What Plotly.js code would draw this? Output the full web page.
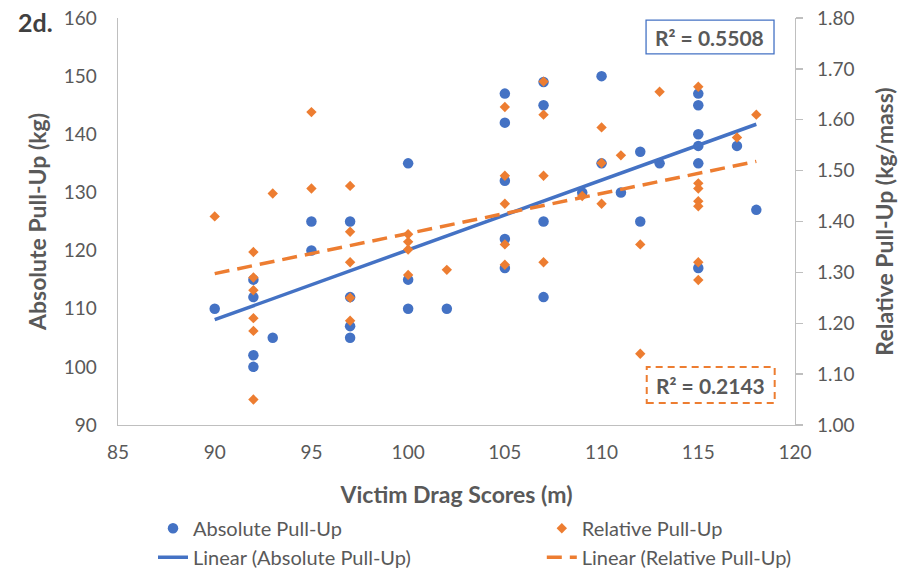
<!DOCTYPE html>
<html>
<head>
<meta charset="utf-8">
<script src="https://cdn.plot.ly/plotly-3.0.1.min.js"></script>
<style>html,body{margin:0;padding:0;background:#fff;}#chart{width:910px;height:571px;}</style>
</head>
<body>
<div id="chart"></div>
<script>
// Absolute pull-up (kg) vs victim drag score (m)
const absDrag = [90, 92,92,92,92, 93, 95,95, 97,97,97,97, 100,100,100, 102, 105,105,105,105,105, 107,107,107,107, 109, 110,110, 111, 112,112, 113, 115,115,115,115,115,115, 117, 118];
const absPull = [110, 115,112,102,100, 105, 125,120, 125,112,107,105, 135,115,110, 110, 147,142,132,122,117, 149,145,125,112, 130, 150,135, 130, 137,125, 135, 147,145,140,138,135,117, 138, 127];

// Relative pull-up (kg/mass) vs victim drag score (m)
const relDrag = [90, 92,92,92,92,92,92, 93, 95,95, 97,97,97,97,97, 100,100,100,100, 102, 105,105,105,105,105, 107,107,107,107, 109, 110,110,110, 111, 112,112, 113, 115,115,115,115,115,115,115, 117, 118];
const relPull = [1.41, 1.34,1.29,1.265,1.21,1.185,1.05, 1.455, 1.615,1.465, 1.47,1.38,1.32,1.25,1.205, 1.375,1.36,1.345,1.295, 1.305, 1.625,1.49,1.435,1.355,1.315, 1.675,1.61,1.49,1.32, 1.45, 1.585,1.515,1.435, 1.53, 1.355,1.14, 1.655, 1.665,1.475,1.465,1.44,1.43,1.32,1.285, 1.565, 1.61];

const r2Labels = ["R² = 0.5508", "R² = 0.2143"];
const legendNames = ["Absolute Pull-Up", "Relative Pull-Up", "Linear (Absolute Pull-Up)", "Linear (Relative Pull-Up)"];

function linFit(xs, ys) {
  const n = xs.length;
  const mx = xs.reduce((a, b) => a + b, 0) / n;
  const my = ys.reduce((a, b) => a + b, 0) / n;
  let sxy = 0, sxx = 0;
  for (let i = 0; i < n; i++) { sxy += (xs[i] - mx) * (ys[i] - my); sxx += (xs[i] - mx) ** 2; }
  const m = sxy / sxx, b = my - m * mx;
  const x0 = Math.min(...xs), x1 = Math.max(...xs);
  return { x: [x0, x1], y: [m * x0 + b, m * x1 + b] };
}
const fitAbs = linFit(absDrag, absPull);
const fitRel = linFit(relDrag, relPull);

const BLUE = '#4472C4', ORANGE = '#ED7D31', GREY = '#595959', AXIS = '#BFBFBF';
const FONT = 'Lato, "Open Sans", sans-serif';

const traces = [
  { x: absDrag, y: absPull, name: legendNames[0], type: 'scatter', mode: 'markers',
    marker: { symbol: 'circle', size: 10.5, color: BLUE }, yaxis: 'y', legend: 'legend' },
  { x: relDrag, y: relPull, name: legendNames[1], type: 'scatter', mode: 'markers',
    marker: { symbol: 'diamond', size: 8, color: ORANGE }, yaxis: 'y2', legend: 'legend2' },
  { x: fitAbs.x, y: fitAbs.y, name: legendNames[2], type: 'scatter', mode: 'lines',
    line: { color: BLUE, width: 3.5 }, yaxis: 'y', legend: 'legend' },
  { x: fitRel.x, y: fitRel.y, name: legendNames[3], type: 'scatter', mode: 'lines',
    line: { color: ORANGE, width: 3.5, dash: '15px,8px' }, yaxis: 'y2', legend: 'legend2' }
];

const tickFont = { family: FONT, size: 19, color: GREY };
const titleFont = { family: FONT, size: 23, color: GREY, weight: 'bold' };
const legFont = { family: FONT, size: 20, color: GREY };

const layout = {
  width: 910, height: 571,
  margin: { l: 118, r: 115, t: 18, b: 146 },
  paper_bgcolor: '#fff', plot_bgcolor: '#fff',
  font: { family: FONT, color: GREY },
  showlegend: true,
  xaxis: {
    range: [85, 120], tick0: 85, dtick: 5, showgrid: false, zeroline: false,
    showline: true, linecolor: AXIS, linewidth: 1.3, ticks: '',
    tickfont: tickFont, ticklabelstandoff: 10,
    title: { text: 'Victim Drag Scores (m)', font: titleFont, standoff: 24 },
    automargin: false
  },
  yaxis: {
    range: [90, 160], tick0: 90, dtick: 10, showgrid: false, zeroline: false,
    showline: true, linecolor: AXIS, linewidth: 1.3, ticks: '',
    tickfont: tickFont, ticklabelstandoff: 16,
    title: { text: 'Absolute Pull-Up (kg)', font: titleFont, standoff: 10 },
    automargin: false
  },
  yaxis2: {
    overlaying: 'y', side: 'right',
    range: [1.0, 1.8], tick0: 1.0, dtick: 0.1, tickformat: '.2f',
    showgrid: false, zeroline: false,
    showline: true, linecolor: AXIS, linewidth: 1.3,
    ticks: 'outside', ticklen: 7, tickcolor: AXIS, tickwidth: 1.3,
    tickfont: tickFont, ticklabelstandoff: 10,
    title: { text: 'Relative Pull-Up (kg/mass)', font: titleFont, standoff: 23 },
    automargin: false
  },
  legend: {
    orientation: 'v', xref: 'paper', yref: 'container', x: 0.0517, y: 0.109,
    xanchor: 'left', yanchor: 'top',
    font: legFont, traceorder: 'normal', bgcolor: 'rgba(0,0,0,0)'
  },
  legend2: {
    orientation: 'v', xref: 'paper', yref: 'container', x: 0.626, y: 0.109,
    xanchor: 'left', yanchor: 'top',
    font: legFont, traceorder: 'normal', bgcolor: 'rgba(0,0,0,0)'
  },
  shapes: [
    { type: 'rect', xref: 'paper', yref: 'paper', x0: 0.780, x1: 0.969, y0: 0.912, y1: 0.995,
      line: { color: BLUE, width: 1.3 }, fillcolor: '#fff', layer: 'above' },
    { type: 'rect', xref: 'paper', yref: 'paper', x0: 0.781, x1: 0.970, y0: 0.054, y1: 0.1425,
      line: { color: ORANGE, width: 2, dash: '7px,5px' }, fillcolor: '#fff', layer: 'above' }
  ],
  annotations: [
    { text: r2Labels[0], xref: 'paper', yref: 'paper', x: 0.874, y: 0.953,
      xanchor: 'center', yanchor: 'middle', showarrow: false,
      font: { family: FONT, size: 21, color: GREY, weight: 'bold' } },
    { text: r2Labels[1], xref: 'paper', yref: 'paper', x: 0.875, y: 0.098,
      xanchor: 'center', yanchor: 'middle', showarrow: false,
      font: { family: FONT, size: 21, color: GREY, weight: 'bold' } },
    { text: '2d.', xref: 'paper', yref: 'paper', x: -0.150, y: 0.99,
      xanchor: 'left', yanchor: 'middle', showarrow: false,
      font: { family: FONT, size: 25, color: '#404040', weight: 'bold' } }
  ]
};

Plotly.newPlot('chart', traces, layout, { displayModeBar: false, staticPlot: true });
</script>
</body>
</html>
